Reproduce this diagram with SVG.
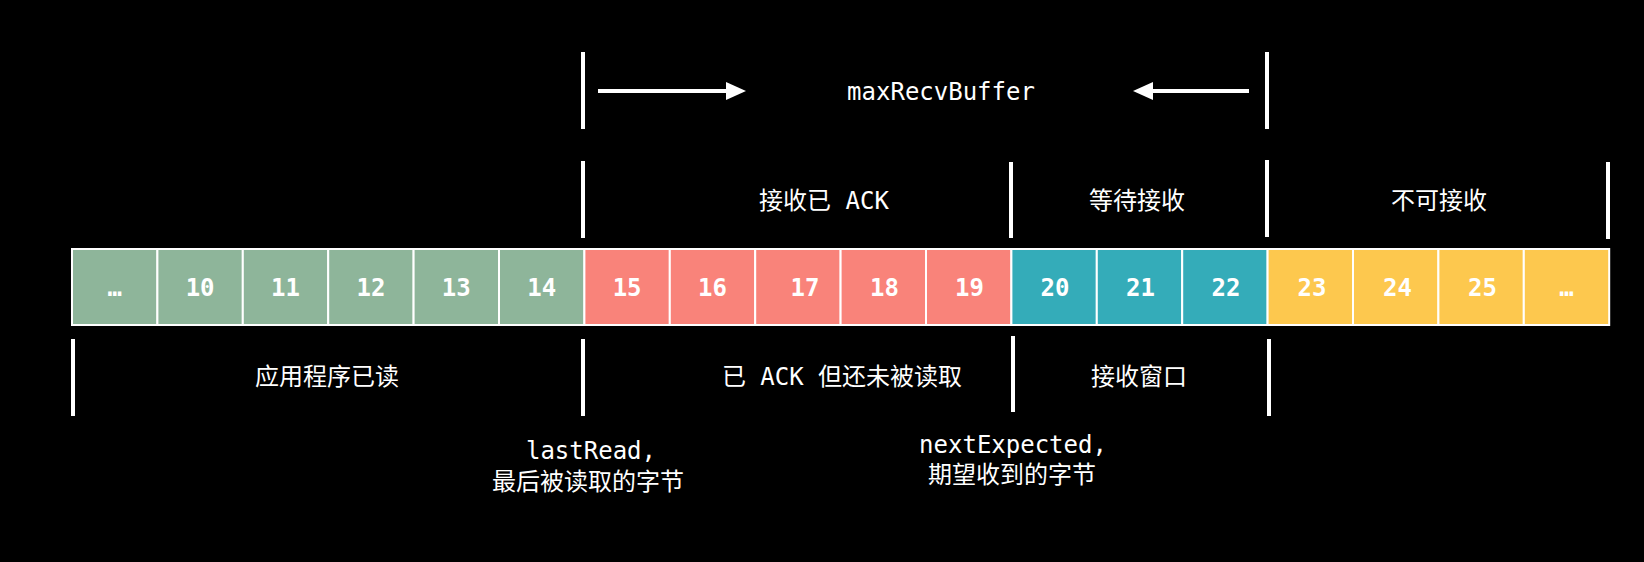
<svg xmlns="http://www.w3.org/2000/svg" width="1644" height="562" viewBox="0 0 1644 562">
<style>
.bg{fill:#000}
.cell{stroke:#fff;stroke-width:2}
.g{fill:#8eb59a}.r{fill:#f9837a}.t{fill:#34acb9}.y{fill:#fdc84e}
.ct{font-family:"DejaVu Sans Mono","Liberation Mono",monospace;font-size:24px;font-weight:bold;fill:#fff;text-anchor:middle}
.lb{font-family:"DejaVu Sans Mono","Noto Sans CJK SC",monospace;font-size:24px;fill:#fff;text-anchor:middle}
.div{stroke:#fff;stroke-width:4}
.arr{stroke:#fff;stroke-width:4;fill:none;marker-end:url(#ah)}
</style>
<defs>
<marker id="ah" viewBox="0 0 20 18" refX="0" refY="9" markerWidth="20" markerHeight="18" markerUnits="userSpaceOnUse" orient="auto">
<path d="M0,0 L20,9 L0,18 z" fill="#fff"/>
</marker>
</defs>
<rect class="bg" x="0" y="0" width="1644" height="562"/>
<g id="cells">
<g id="cell-dots-left"><rect class="cell g" x="72" y="249" width="85.4" height="76"/><text class="ct" x="114.7" y="296">…</text></g>
<g id="cell-10"><rect class="cell g" x="157.4" y="249" width="85.4" height="76"/><text class="ct" x="200.1" y="296">10</text></g>
<g id="cell-11"><rect class="cell g" x="242.8" y="249" width="85.4" height="76"/><text class="ct" x="285.5" y="296">11</text></g>
<g id="cell-12"><rect class="cell g" x="328.2" y="249" width="85.4" height="76"/><text class="ct" x="370.9" y="296">12</text></g>
<g id="cell-13"><rect class="cell g" x="413.6" y="249" width="85.4" height="76"/><text class="ct" x="456.3" y="296">13</text></g>
<g id="cell-14"><rect class="cell g" x="499" y="249" width="85.4" height="76"/><text class="ct" x="541.7" y="296">14</text></g>
<g id="cell-15"><rect class="cell r" x="584.4" y="249" width="85.4" height="76"/><text class="ct" x="627.1" y="296">15</text></g>
<g id="cell-16"><rect class="cell r" x="669.8" y="249" width="85.4" height="76"/><text class="ct" x="712.5" y="296">16</text></g>
<g id="cell-17"><rect class="cell r" x="755.2" y="249" width="85.4" height="76"/><text class="ct" x="805" y="296">17</text></g>
<g id="cell-18"><rect class="cell r" x="840.6" y="249" width="85.4" height="76"/><text class="ct" x="884.5" y="296">18</text></g>
<g id="cell-19"><rect class="cell r" x="926" y="249" width="85.4" height="76"/><text class="ct" x="969.5" y="296">19</text></g>
<g id="cell-20"><rect class="cell t" x="1011.4" y="249" width="85.4" height="76"/><text class="ct" x="1055" y="296">20</text></g>
<g id="cell-21"><rect class="cell t" x="1096.8" y="249" width="85.4" height="76"/><text class="ct" x="1140.5" y="296">21</text></g>
<g id="cell-22"><rect class="cell t" x="1182.2" y="249" width="85.4" height="76"/><text class="ct" x="1226" y="296">22</text></g>
<g id="cell-23"><rect class="cell y" x="1267.6" y="249" width="85.4" height="76"/><text class="ct" x="1312" y="296">23</text></g>
<g id="cell-24"><rect class="cell y" x="1353" y="249" width="85.4" height="76"/><text class="ct" x="1397.5" y="296">24</text></g>
<g id="cell-25"><rect class="cell y" x="1438.4" y="249" width="85.4" height="76"/><text class="ct" x="1482.5" y="296">25</text></g>
<g id="cell-dots-right"><rect class="cell y" x="1523.8" y="249" width="85.4" height="76"/><text class="ct" x="1566.5" y="296">…</text></g>
</g>
<g id="dividers">
<line class="div" x1="583" y1="52" x2="583" y2="129"/>
<line class="div" x1="1267" y1="52" x2="1267" y2="129"/>
<line class="div" x1="583" y1="161" x2="583" y2="238"/>
<line class="div" x1="1011" y1="162" x2="1011" y2="238"/>
<line class="div" x1="1267" y1="160" x2="1267" y2="237"/>
<line class="div" x1="1608" y1="162" x2="1608" y2="239"/>
<line class="div" x1="73" y1="339" x2="73" y2="416"/>
<line class="div" x1="583" y1="339" x2="583" y2="416"/>
<line class="div" x1="1013" y1="336" x2="1013" y2="412"/>
<line class="div" x1="1269" y1="339" x2="1269" y2="416"/>
</g>
<g id="connectors">
<line class="arr" x1="598" y1="91" x2="726" y2="91"/>
<line class="arr" x1="1249" y1="91" x2="1153" y2="91"/>
</g>
<g id="label-maxRecvBuffer"><text class="lb" x="941" y="100">maxRecvBuffer</text></g>
<g id="label-recv-acked"><text class="lb" x="824" y="209">接收已 ACK</text></g>
<g id="label-waiting"><text class="lb" x="1137" y="209">等待接收</text></g>
<g id="label-not-receivable"><text class="lb" x="1439" y="209">不可接收</text></g>
<g id="label-app-read"><text class="lb" x="327" y="385">应用程序已读</text></g>
<g id="label-acked-unread"><text class="lb" x="842" y="385">已 ACK 但还未被读取</text></g>
<g id="label-recv-window"><text class="lb" x="1139" y="385">接收窗口</text></g>
<g id="label-lastRead"><text class="lb" x="591" y="459">lastRead,</text><text class="lb" x="588" y="490">最后被读取的字节</text></g>
<g id="label-nextExpected"><text class="lb" x="1013" y="453">nextExpected,</text><text class="lb" x="1012" y="483">期望收到的字节</text></g>
</svg>
